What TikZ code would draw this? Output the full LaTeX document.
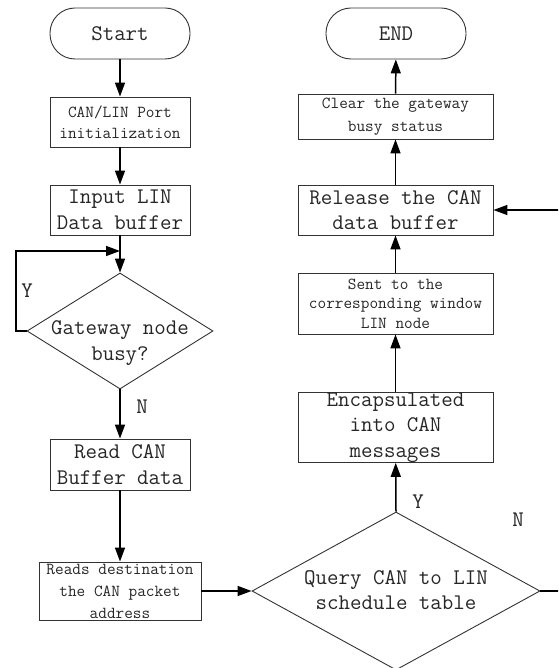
\documentclass[tikz,border=0pt]{standalone}
\usetikzlibrary{arrows.meta,shapes.geometric}
\begin{document}
\begin{tikzpicture}[x=1pt,y=-1pt,
  big/.style={font=\fontsize{22.3}{25.5}\selectfont\ttfamily, text=black!85},
  small/.style={font=\fontsize{16.8}{21}\selectfont\ttfamily, text=black!85},
  box/.style={draw=black!80, line width=0.9pt, inner sep=0pt, align=center},
  term/.style={box, big, rounded corners=25pt, minimum width=140pt, minimum height=51pt},
  conn/.style={line width=1.5pt, -{Triangle[length=14pt,width=10pt]}},
  line/.style={line width=1.5pt},
  dec/.style={draw=black!80, diamond, line width=0.9pt, inner sep=0pt}
]
\useasboundingbox (0,0) rectangle (558,668);
\clip (0,0) rectangle (558,668);

% left column
\node[term] (start) at (120,33.5) {Start};
\node[box, small, minimum width=140pt, minimum height=50pt] (init) at (120,122) {CAN/LIN Port\\initialization};
\node[box, big, minimum width=140pt, minimum height=50pt] (input) at (120,210) {Input LIN\\Data buffer};
\node[dec, minimum width=186pt, minimum height=116pt] (dia1) at (120,331) {};
\node[big, align=center] (dia1t) at (120,343) {Gateway node\\busy?};
\node[box, big, minimum width=140pt, minimum height=51pt] (read) at (120,464.5) {Read CAN\\Buffer data};
\node[box, small, minimum width=162pt, minimum height=58pt, font=\fontsize{16.8}{22}\selectfont\ttfamily] (reads) at (120,591) {Reads destination\\the CAN packet\\address};

% right column
\node[dec, minimum width=288pt, minimum height=158pt] (dia2) at (396,591) {};
\node[big, align=center] (dia2t) at (396,590) {Query CAN to LIN\\schedule table};
\node[box, big, minimum width=195pt, minimum height=69pt] (enc) at (395.5,427.5) {Encapsulated\\into CAN\\messages};
\node[box, small, minimum width=195pt, minimum height=61pt, font=\fontsize{16.8}{19.5}\selectfont\ttfamily] (sent) at (395.5,303.5) {Sent to the\\corresponding window\\LIN node};
\node[box, big, minimum width=195pt, minimum height=50pt] (release) at (395.5,210) {Release the CAN\\data buffer};
\node[box, small, minimum width=195pt, minimum height=45pt, font=\fontsize{16.8}{23}\selectfont\ttfamily] (clear) at (395.5,116.5) {Clear the gateway\\busy status};
\node[term] (end) at (396,33.5) {END};

% labels
\node[big] (ly1) at (27,291) {Y};
\node[big] (ln1) at (142,407) {N};
\node[big] (ly2) at (418,502) {Y};
\node[big] (ln2) at (518,520) {N};

% connectors
\draw[conn] (start) -- (init);
\draw[conn] (init) -- (input);
\draw[conn] (input) -- (dia1.north);
\coordinate (loopin) at (120,251);
\coordinate (loopc) at (16,331);
\draw[conn] (dia1.west) -- (loopc) |- (loopin);
\draw[conn] (dia1.south) -- (read);
\draw[conn] (read) -- (reads);
\draw[conn] (reads.east) -- (dia2.west);
\draw[conn] (dia2.north) -- (enc);
\draw[conn] (enc) -- (sent);
\draw[conn] (sent) -- (release);
\draw[conn] (release) -- (clear);
\draw[conn] (clear) -- (end);
\coordinate (nr1) at (600,591);
\coordinate (nr2) at (600,210);
\draw[conn] (dia2.east) -- (nr1) -- (nr2) -- (release.east);
\end{tikzpicture}
\end{document}
